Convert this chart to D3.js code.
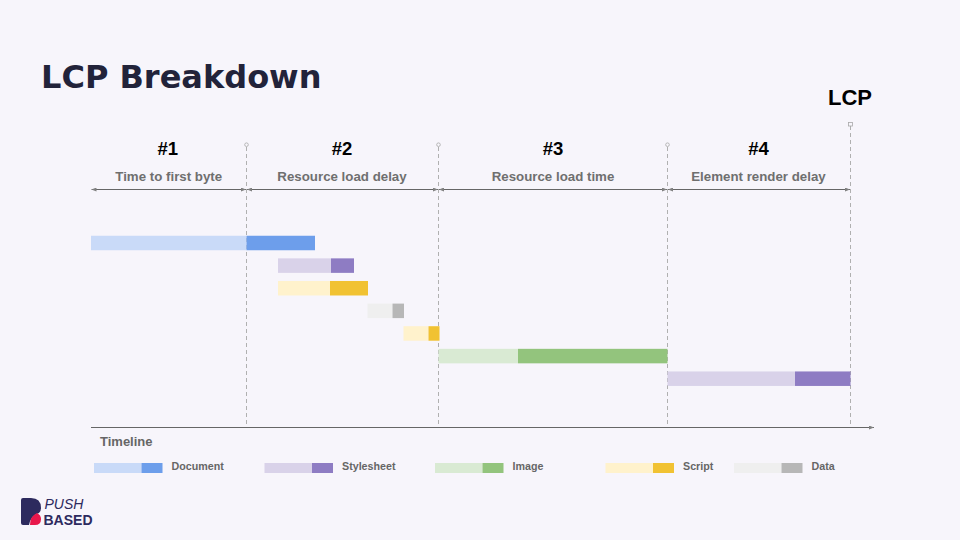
<!DOCTYPE html>
<html>
<head>
<meta charset="utf-8">
<script src="https://cdn.jsdelivr.net/npm/d3@7"></script>
<style>
  html, body { margin: 0; padding: 0; background: #f7f5fb; }
  svg { display: block; font-family: "Liberation Sans", Arial, sans-serif; }
</style>
</head>
<body>
<div id="chart"></div>
<script>
const WIDTH = 960, HEIGHT = 540;

// Timeline position of each marker (0 = left end of the axis)
const phaseEdges = [0, 155.5, 347.5, 576.5, 759.5];
const phaseNumbers = ["#1", "#2", "#3", "#4"];
const phaseLabels = ["Time to first byte", "Resource load delay", "Resource load time", "Element render delay"];

// One entry per request row
const rowTypes = ["Document", "Stylesheet", "Script", "Data", "Script", "Image", "Stylesheet"];
const rowStarts = [0, 187, 187, 276.5, 312.5, 347.5, 576.5];
const rowSplits = [155.5, 240, 239, 301.5, 337.5, 427, 704];
const rowEnds = [224, 263, 277, 313, 348.5, 576.5, 759.5];

const legendTypes = ["Document", "Stylesheet", "Image", "Script", "Data"];
const lightColors = ["#c9daf8", "#d9d2e9", "#d9ead3", "#fff2cc", "#efefef"];
const darkColors = ["#6d9eeb", "#8e7cc3", "#93c47d", "#f1c232", "#b7b7b7"];

const lightScale = d3.scaleOrdinal(legendTypes, lightColors);
const darkScale = d3.scaleOrdinal(legendTypes, darkColors);

const svg = d3.select("#chart").append("svg")
  .attr("width", WIDTH)
  .attr("height", HEIGHT);

svg.append("rect").attr("width", WIDTH).attr("height", HEIGHT).attr("fill", "#f7f5fb");

// Scales
const xScale = d3.scaleLinear().domain([0, 783]).range([91, 874]);
const yScale = d3.scalePoint()
  .domain(d3.range(rowTypes.length))
  .range([243, 378.7]);
const BAR_H = 14.5;

svg.append("text")
  .attr("x", 41).attr("y", 88)
  .attr("font-family", "DejaVu Sans")
  .attr("font-size", 32)
  .attr("font-weight", 700)
  .attr("fill", "#22233a")
  .text("LCP Breakdown");

// Arrow heads
const defs = svg.append("defs");
[["arrowEnd", "M0,0L5,2L0,4Z"], ["arrowStart", "M5,0L0,2L5,4Z"]].forEach(([id, d]) => {
  defs.append("marker")
    .attr("id", id)
    .attr("markerUnits", "userSpaceOnUse")
    .attr("markerWidth", 5).attr("markerHeight", 4)
    .attr("refX", id === "arrowEnd" ? 5 : 0).attr("refY", 2)
    .attr("orient", "auto")
    .append("path").attr("d", d).attr("fill", "#808080");
});

// Dashed markers
svg.append("g").selectAll("line")
  .data(phaseEdges.slice(1))
  .join("line")
  .attr("x1", (d) => xScale(d))
  .attr("x2", (d) => xScale(d))
  .attr("y1", (d, i) => i === 3 ? 126 : 147)
  .attr("y2", 425)
  .attr("stroke", "#b0b0b0")
  .attr("stroke-width", 1)
  .attr("stroke-dasharray", "4 3");

svg.append("g").selectAll("circle")
  .data(phaseEdges.slice(1, 4))
  .join("circle")
  .attr("cx", (d) => xScale(d))
  .attr("cy", 144.7)
  .attr("r", 1.8)
  .attr("fill", "none")
  .attr("stroke", "#a8a8a8")
  .attr("stroke-width", 0.8);

svg.append("rect")
  .attr("x", xScale(phaseEdges[4]) - 2).attr("y", 122.5)
  .attr("width", 4).attr("height", 3.5)
  .attr("fill", "none")
  .attr("stroke", "#a8a8a8")
  .attr("stroke-width", 0.8);

svg.append("text")
  .attr("x", 850).attr("y", 104.5)
  .attr("text-anchor", "middle")
  .attr("font-size", 22)
  .attr("font-weight", 700)
  .attr("fill", "#000000")
  .text("LCP");

// Phase headers
const phases = svg.append("g").selectAll("g")
  .data(phaseNumbers)
  .join("g");

phases.append("text")
  .attr("x", (d, i) => xScale((phaseEdges[i] + phaseEdges[i + 1]) / 2) + [-1, -0.5, 0, -0.5][i])
  .attr("y", 155)
  .attr("text-anchor", "middle")
  .attr("font-size", 18.5)
  .attr("font-weight", 700)
  .attr("fill", "#000000")
  .text((d) => d);

phases.append("text")
  .attr("x", (d, i) => xScale((phaseEdges[i] + phaseEdges[i + 1]) / 2) + [0, -0.5, 0, -0.5][i])
  .attr("y", 180.5)
  .attr("text-anchor", "middle")
  .attr("font-size", 13.3)
  .attr("font-weight", 700)
  .attr("fill", "#6f6f6f")
  .text((d, i) => phaseLabels[i]);

phases.append("line")
  .attr("x1", (d, i) => xScale(phaseEdges[i]) + 0.5)
  .attr("x2", (d, i) => xScale(phaseEdges[i + 1]) - 0.5)
  .attr("y1", 189.5)
  .attr("y2", 189.5)
  .attr("stroke", "#666666")
  .attr("stroke-width", 1)
  .attr("marker-start", "url(#arrowStart)")
  .attr("marker-end", "url(#arrowEnd)");

// Request bars
const rows = svg.append("g").selectAll("g")
  .data(rowTypes)
  .join("g");

rows.append("rect")
  .attr("x", (d, i) => xScale(rowStarts[i]))
  .attr("y", (d, i) => yScale(i) - BAR_H / 2)
  .attr("width", (d, i) => xScale(rowSplits[i]) - xScale(rowStarts[i]))
  .attr("height", BAR_H)
  .attr("fill", (d) => lightScale(d));

rows.append("rect")
  .attr("x", (d, i) => xScale(rowSplits[i]))
  .attr("y", (d, i) => yScale(i) - BAR_H / 2)
  .attr("width", (d, i) => xScale(rowEnds[i]) - xScale(rowSplits[i]))
  .attr("height", BAR_H)
  .attr("fill", (d) => darkScale(d));

// Timeline axis
svg.append("line")
  .attr("x1", xScale(0)).attr("x2", xScale(783))
  .attr("y1", 427.5).attr("y2", 427.5)
  .attr("stroke", "#666666")
  .attr("stroke-width", 1)
  .attr("marker-end", "url(#arrowEnd)");

svg.append("text")
  .attr("x", 100).attr("y", 445.5)
  .attr("font-size", 13)
  .attr("font-weight", 700)
  .attr("fill", "#666666")
  .text("Timeline");

// Legend
const legendX = d3.scaleOrdinal(legendTypes, [94, 264.5, 435, 605.5, 734]);
const legend = svg.append("g").selectAll("g")
  .data(legendTypes)
  .join("g")
  .attr("transform", (d) => `translate(${legendX(d)},463)`);

legend.append("rect")
  .attr("width", 47.5).attr("height", 10)
  .attr("fill", (d) => lightScale(d));

legend.append("rect")
  .attr("x", 47.5)
  .attr("width", 21).attr("height", 10)
  .attr("fill", (d) => darkScale(d));

legend.append("text")
  .attr("x", 77.5).attr("y", 7)
  .attr("font-size", 10.7)
  .attr("font-weight", 700)
  .attr("fill", "#666666")
  .text((d) => d);

// Logo
const logo = svg.append("g");
logo.append("path")
  .attr("d", "M21,500Q21,498 23,498H31Q41,498 41,508Q41,511 39,513Q31,515 29,525H23Q21,525 21,523Z")
  .attr("fill", "#2d2a5e");
logo.append("path")
  .attr("d", "M30,525Q30,516 37,513Q41,515 41,519Q41,525 35,525Z")
  .attr("fill", "#e8174b");

logo.append("text")
  .attr("x", 44.5).attr("y", 508.5)
  .attr("font-size", 14)
  .attr("font-style", "italic")
  .attr("fill", "#2d2a5e")
  .text("PUSH");
logo.append("text")
  .attr("x", 43.5).attr("y", 524.5)
  .attr("font-size", 14)
  .attr("font-weight", 700)
  .attr("fill", "#2d2a5e")
  .text("BASED");
</script>
</body>
</html>
